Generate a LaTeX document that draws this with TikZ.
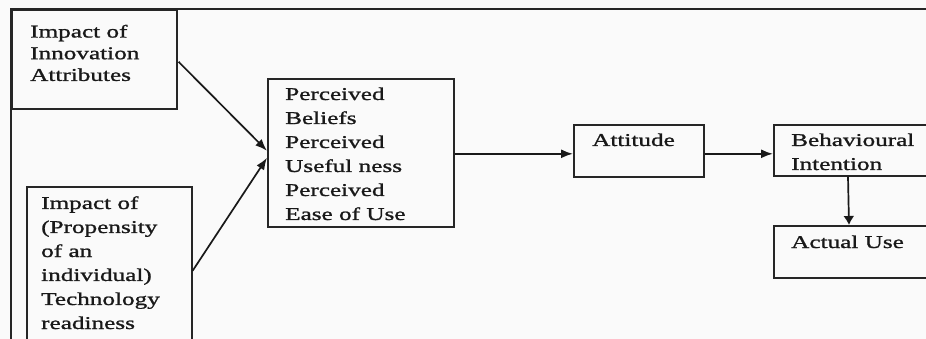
\documentclass[tikz,border=0pt]{standalone}
\usepackage{fontspec}
\setmainfont{Liberation Serif}[FakeStretch=1.4,FakeBold=1.2]
\usetikzlibrary{arrows.meta,calc}
\begin{document}
\begin{tikzpicture}[x=1pt,y=-1pt,
  box/.style={draw=black!85,line width=1.6pt,rectangle,inner sep=0pt,anchor=north west},
  txt/.style={anchor=base west,inner sep=0pt,text=black!90},
  arr/.style={draw=black!90,line width=1.7pt,-{Latex[length=12pt,width=9pt]}},
  varr/.style={draw=black!90,line width=1.7pt,-{Latex[length=9pt,width=11pt]}}]
\useasboundingbox (0,0) rectangle (926,339);
\fill[white!98!black] (0,0) rectangle (926,339);
\clip (0,0) rectangle (926,339);
% outer frame
\draw[black!85,line width=1.6pt] (940,9) -- (11,9) -- (11,350);
% boxes
\node[box,minimum width=165pt,minimum height=99pt] (b1) at (11,9) {};
\node[box,minimum width=165pt,minimum height=170pt] (b2) at (26,186) {};
\node[box,minimum width=186pt,minimum height=148pt] (b3) at (267,78) {};
\node[box,minimum width=130pt,minimum height=52pt] (att) at (573,124) {};
\node[box,minimum width=170pt,minimum height=51pt] (bi) at (773,124) {};
\node[box,minimum width=170pt,minimum height=52pt] (au) at (773,225) {};
% texts
\node[txt] (t1) at (30,37.5) {\fontsize{18}{21.7}\selectfont\begin{tabular}[t]{@{}l@{}}Impact of\\Innovation\\Attributes\end{tabular}};
\node[txt] (t2) at (41,209) {\fontsize{18}{24}\selectfont\begin{tabular}[t]{@{}l@{}}Impact of\\(Propensity\\of an\\individual)\\Technology\\readiness\end{tabular}};
\node[txt] (t3) at (285,100) {\fontsize{18}{24}\selectfont\begin{tabular}[t]{@{}l@{}}Perceived\\Beliefs\\Perceived\\Useful ness\\Perceived\\Ease of Use\end{tabular}};
\node[txt] (t4) at (592,146) {\fontsize{18}{24}\selectfont Attitude};
\node[txt] (t5) at (791,146) {\fontsize{18}{24}\selectfont\begin{tabular}[t]{@{}l@{}}Behavioural\\Intention\end{tabular}};
\node[txt] (t6) at (791,248) {\fontsize{18}{24}\selectfont Actual Use};
% connectors
\draw[arr] ($(b1.east)+(1,2.5)$) -- ($(b3.west)+(0,-2)$);
\draw[arr] ($(b2.east)+(0,-1)$) -- ($(b3.west)+(0,5)$);
\draw[arr] ($(b3.east)+(0,1)$) -- ($(b3.east -| att.west)+(0,1)$);
\draw[arr] ($(att.east)+(0,3)$) -- ($(att.east -| bi.west)+(0,3)$);
\draw[varr] ($(bi.south west)+(75,0)$) -- ($(au.north west)+(76,0)$);
\end{tikzpicture}
\end{document}
